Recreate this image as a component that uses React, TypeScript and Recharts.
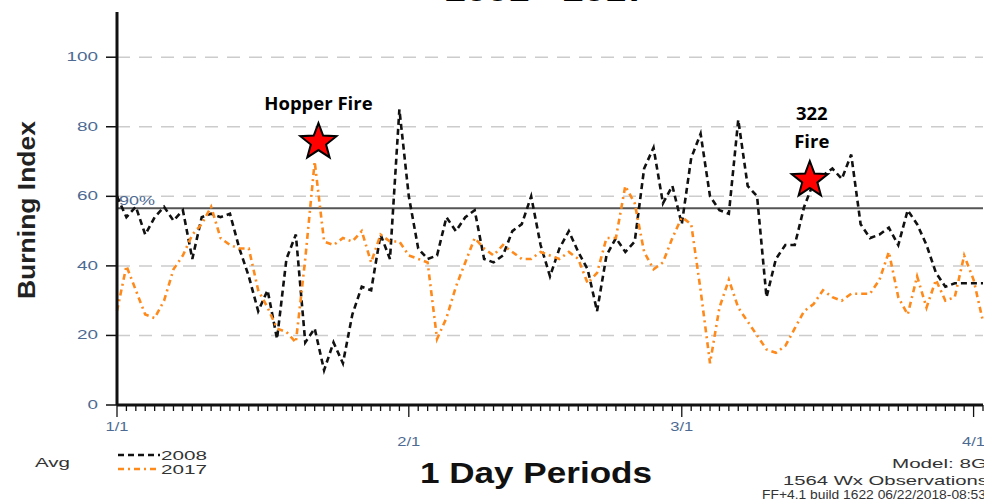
import React from "react";
import {
  LineChart,
  Line,
  XAxis,
  YAxis,
  CartesianGrid,
  ReferenceLine,
  ReferenceDot,
} from "recharts";

// day index from 1/1 (0) to just past 4/1
const days = Array.from({ length: 93 }, (_, i) => i);

const bi2008 = [
  60, 54, 57, 49, 54, 57, 53, 56, 42, 54,
  55, 54, 55, 45, 37, 27, 33, 19, 42, 49,
  18, 22, 10, 18, 12, 26, 34, 33, 49, 42,
  85, 60, 45, 42, 43, 54, 50, 54, 56, 42,
  41, 43, 50, 52, 60, 46, 37, 45, 50, 44,
  39, 27, 43, 48, 44, 47, 68, 74, 58, 63,
  52, 71, 78, 60, 56, 55, 82, 63, 60, 31,
  42, 46, 46, 57, 64, 66, 68, 65, 72, 52,
  48, 49, 51, 46, 56, 52, 46, 38, 34, 35,
  35, 35, 35,
];

const bi2017 = [
  27, 40, 33, 26, 25, 30, 39, 43, 49, 52,
  57, 48, 46, 45, 45, 33, 28, 22, 21, 18,
  42, 70, 47, 46, 48, 47, 50, 41, 49, 47,
  47, 43, 42, 41, 19, 25, 34, 41, 48, 45,
  43, 46, 44, 42, 42, 44, 43, 42, 44, 42,
  35, 38, 48, 48, 63, 58, 44, 39, 41, 48,
  54, 52, 33, 12, 28, 36, 28, 24, 20, 16,
  15, 17, 22, 27, 29, 33, 31, 30, 32, 32,
  32, 36, 44, 31, 26, 37, 28, 36, 30, 31,
  43, 36, 24,
];

const monthTicks = [0, 31, 60, 91];
const monthLabels = ["1/1", "2/1", "3/1", "4/1"];
const yTicks = [0, 20, 40, 60, 80, 100];
const gridValues = [20, 40, 60, 80, 100];
const pct90 = 56.6;

const series = [
  { key: "y2008", name: "2008", color: "#111111", dash: "6 4" },
  { key: "y2017", name: "2017", color: "#ff8a1c", dash: "6 4 2 4" },
];

const fires = [
  { name: "Hopper Fire", lines: ["Hopper Fire"], day: 21.4, value: 75.6 },
  { name: "322 Fire", lines: ["322", "Fire"], day: 73.6, value: 64.7 },
];

const data = days.map((d, i) => ({ day: d, y2008: bi2008[i], y2017: bi2017[i] }));

const FONT = "'Liberation Sans', Arial, sans-serif";
const TICK_COLOR = "#4d6a92";

const YTick = (props: any) => {
  const { x, y, payload } = props;
  const s = String(payload.value);
  return (
    <text
      x={x}
      y={y}
      dy={4}
      textAnchor="end"
      fill={TICK_COLOR}
      fontSize={12}
      fontFamily={FONT}
      textLength={s.length * 10.5}
      lengthAdjust="spacingAndGlyphs"
    >
      {s}
    </text>
  );
};

const XTick = (props: any) => {
  const { x, y, payload } = props;
  const idx = monthTicks.indexOf(payload.value);
  const major = idx >= 0;
  return (
    <g>
      <line x1={x} x2={x} y1={y} y2={y + (major ? 12 : 6)} stroke="#111" strokeWidth={1.3} />
      {major && (
        <text
          x={x}
          y={y + (idx % 2 === 0 ? 26 : 41)}
          textAnchor="middle"
          fill={TICK_COLOR}
          fontSize={12}
          fontFamily={FONT}
          textLength={23}
          lengthAdjust="spacingAndGlyphs"
        >
          {monthLabels[idx]}
        </text>
      )}
    </g>
  );
};

const PctLabel = (props: any) => {
  const { viewBox } = props;
  return (
    <text
      x={viewBox.x + 2}
      y={viewBox.y - 3}
      fill={TICK_COLOR}
      fontSize={12}
      fontFamily={FONT}
      textLength={36}
      lengthAdjust="spacingAndGlyphs"
    >
      90%
    </text>
  );
};

const Star = (props: any) => {
  const { cx, cy } = props;
  const R = 19;
  const r = 8;
  const pts: string[] = [];
  for (let k = 0; k < 10; k++) {
    const a = -Math.PI / 2 + (k * Math.PI) / 5;
    const rad = k % 2 === 0 ? R : r;
    pts.push(`${cx + rad * Math.cos(a)},${cy + rad * Math.sin(a)}`);
  }
  return <polygon points={pts.join(" ")} fill="#ff0000" stroke="#000" strokeWidth={2} />;
};

const FireLabel = (lines: string[]) => (props: any) => {
  const { viewBox } = props;
  const cx = viewBox.x + viewBox.width / 2;
  const cy = viewBox.y + viewBox.height / 2;
  const last = cy - 32;
  return (
    <g>
      {lines.map((t, i) => (
        <text
          key={t}
          x={cx + (lines.length > 1 ? 2 : 0)}
          y={last - (lines.length - 1 - i) * 28}
          textAnchor="middle"
          fontFamily="'Open Sans', sans-serif"
          fontWeight={700}
          fontSize={18.5}
          fill="#000"
        >
          {t}
        </text>
      ))}
    </g>
  );
};

export default function App() {
  return (
    <div
      style={{
        position: "absolute",
        left: 0,
        top: 0,
        width: 984,
        height: 501,
        background: "#fff",
        overflow: "hidden",
        fontFamily: FONT,
      }}
    >
      <LineChart
        width={984}
        height={501}
        data={data}
        margin={{ top: 12, right: 1, bottom: 0, left: 0 }}
      >
        <CartesianGrid
          vertical={false}
          horizontalValues={gridValues}
          stroke="#cccccc"
          strokeDasharray="13 9"
          strokeWidth={1.5}
        />
        <XAxis
          dataKey="day"
          type="number"
          domain={[0, 92]}
          ticks={days}
          interval={0}
          height={96}
          tickLine={false}
          tickSize={0}
          tickMargin={0}
          tick={<XTick />}
          axisLine={{ stroke: "#111", strokeWidth: 3 }}
        />
        <YAxis
          type="number"
          domain={[0, 113]}
          ticks={yTicks}
          width={117}
          tickSize={11}
          tickMargin={8}
          tick={<YTick />}
          tickLine={{ stroke: "#111", strokeWidth: 1.5 }}
          axisLine={{ stroke: "#111", strokeWidth: 3 }}
        />
        <ReferenceLine y={pct90} stroke="#555" strokeWidth={2} label={<PctLabel />} />
        {series.map((s) => (
          <Line
            key={s.key}
            type="linear"
            dataKey={s.key}
            name={s.name}
            stroke={s.color}
            strokeWidth={2.6}
            strokeDasharray={s.dash}
            dot={false}
            isAnimationActive={false}
          />
        ))}
        {fires.map((f) => (
          <ReferenceDot
            key={f.name}
            x={f.day}
            y={f.value}
            r={19}
            ifOverflow="visible"
            shape={<Star />}
            label={FireLabel(f.lines)}
          />
        ))}
      </LineChart>

      <svg
        width={984}
        height={501}
        style={{ position: "absolute", left: 0, top: 0, pointerEvents: "none" }}
        fontFamily={FONT}
      >
        <text x={445} y={1} fontSize={30} fontWeight={700} textLength={202} lengthAdjust="spacingAndGlyphs">
          2001 - 2017
        </text>
        <text
          transform="translate(35,210) rotate(-90)"
          textAnchor="middle"
          fontSize={23}
          fontWeight={700}
          fill="#222"
          textLength={178}
          lengthAdjust="spacingAndGlyphs"
        >
          Burning Index
        </text>
        <text x={35} y={467} fontSize={13} fill="#333" textLength={35} lengthAdjust="spacingAndGlyphs">
          Avg
        </text>
        {series.map((s, i) => (
          <g key={s.key}>
            <line
              x1={118}
              x2={160}
              y1={455 + i * 14}
              y2={455 + i * 14}
              stroke={s.color}
              strokeWidth={2.6}
              strokeDasharray={s.dash}
            />
            <text
              x={161}
              y={460 + i * 14}
              fontSize={13}
              fill="#333"
              textLength={46}
              lengthAdjust="spacingAndGlyphs"
            >
              {s.name}
            </text>
          </g>
        ))}
        <text x={420} y={483} fontSize={29} fontWeight={700} fill="#111" textLength={232} lengthAdjust="spacingAndGlyphs">
          1 Day Periods
        </text>
        <text x={987} y={468} textAnchor="end" fontSize={13} fill="#333" textLength={95} lengthAdjust="spacingAndGlyphs">
          Model: 8G
        </text>
        <text x={988} y={485} textAnchor="end" fontSize={13} fill="#333" textLength={205} lengthAdjust="spacingAndGlyphs">
          1564 Wx Observations
        </text>
        <text x={986} y={499} textAnchor="end" fontSize={13} fill="#333" textLength={224} lengthAdjust="spacingAndGlyphs">
          FF+4.1 build 1622 06/22/2018-08:53
        </text>
      </svg>
    </div>
  );
}
